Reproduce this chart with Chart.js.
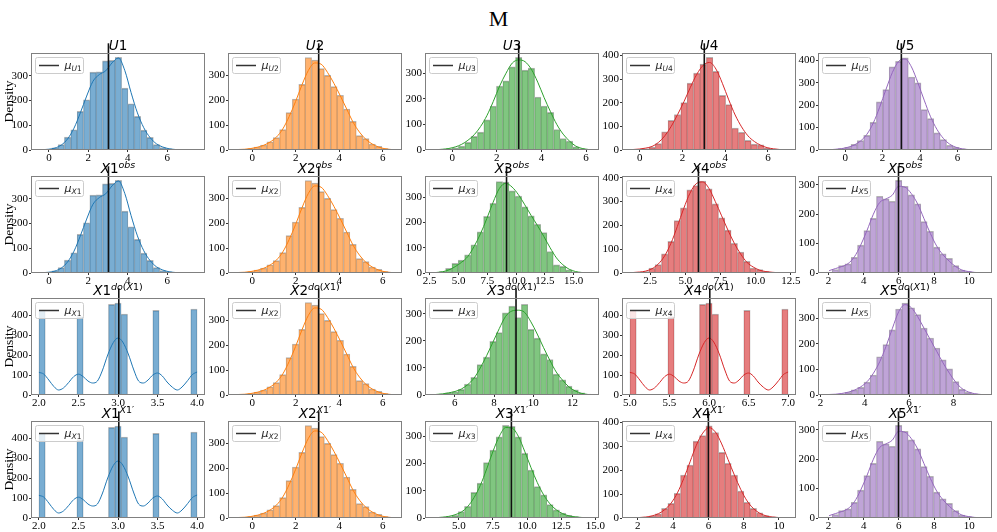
<!DOCTYPE html>
<html>
<head>
<meta charset="utf-8">
<script src="https://cdn.jsdelivr.net/npm/chart.js@4.4.0/dist/chart.umd.min.js"></script>
<style>
  body { margin: 0; background: #fff; width: 997px; height: 532px; position: relative; overflow: hidden; }
  #title { position: absolute; left: 0; width: 997px; top: 8px; text-align: center;
           font: 22px 'Liberation Serif', serif; line-height: 22px; color: #000; }
  canvas { position: absolute; }
</style>
</head>
<body>
<div id="title">M</div>
<script>
// ---- data (25 bins per panel, row by row) ----
const panelTitles = [
  'U1', 'U2', 'U3', 'U4', 'U5',
  'X1^obs', 'X2^obs', 'X3^obs', 'X4^obs', 'X5^obs',
  'X1^do(X1)', 'X2^do(X1)', 'X3^do(X1)', 'X4^do(X1)', 'X5^do(X1)',
  'X1^X1′', 'X2^X1′', 'X3^X1′', 'X4^X1′', 'X5^X1′',
];
const meanLabels = [
  'U1', 'U2', 'U3', 'U4', 'U5',
  'X1', 'X2', 'X3', 'X4', 'X5',
  'X1', 'X2', 'X3', 'X4', 'X5',
  'X1', 'X2', 'X3', 'X4', 'X5',
];
const means = [
  3.02, 3.05, 2.98, 3.02, 3.0,
  3.02, 3.05, 9.17, 5.93, 5.98,
  3.01, 3.05, 9.12, 6.01, 5.98,
  3.01, 3.05, 8.85, 6.0, 5.98,
];

// histogram counts
const countsU1 = [2, 4, 9, 22, 52, 82, 156, 203, 315, 316, 360, 362, 374, 250, 187, 136, 80, 51, 22, 10, 5, 3, 1, 1, 1];
const countsU2 = [2, 3, 6, 12, 20, 33, 50, 82, 150, 205, 264, 372, 362, 327, 300, 255, 220, 165, 115, 58, 46, 24, 15, 6, 3];
const countsU3 = [2, 3, 5, 8, 15, 30, 53, 70, 118, 172, 250, 270, 325, 362, 312, 320, 207, 172, 147, 80, 45, 35, 12, 5, 2];
const countsU4 = [2, 3, 5, 12, 27, 77, 125, 150, 200, 283, 325, 363, 392, 332, 231, 192, 93, 75, 41, 25, 22, 8, 4, 2, 1];
const countsU5 = [1, 3, 6, 12, 25, 42, 65, 123, 214, 269, 370, 395, 410, 325, 299, 180, 140, 76, 46, 21, 12, 5, 3, 1, 1];
const countsX3obs = [2, 6, 18, 38, 51, 72, 112, 163, 224, 276, 362, 360, 325, 305, 262, 226, 193, 160, 85, 32, 26, 13, 4, 2, 1];
const countsX4obs = [2, 3, 6, 21, 35, 80, 133, 220, 273, 349, 367, 386, 353, 290, 232, 180, 125, 88, 49, 21, 14, 6, 3, 1, 1];
const countsX5obs = [3, 12, 25, 31, 53, 95, 144, 186, 261, 252, 244, 315, 295, 266, 235, 175, 142, 88, 65, 50, 25, 10, 5, 2, 1];
const countsDisc = [425, 0, 0, 0, 0, 0, 392, 0, 0, 0, 0, 453, 460, 405, 0, 0, 0, 0, 423, 0, 0, 0, 0, 0, 430];
const countsX3do = [2, 4, 8, 12, 21, 40, 65, 112, 140, 198, 230, 303, 328, 286, 335, 242, 210, 152, 131, 77, 56, 33, 19, 8, 3];
const countsX5do = [1, 3, 5, 10, 20, 30, 50, 78, 149, 196, 254, 335, 358, 340, 313, 261, 222, 183, 137, 102, 52, 22, 10, 5, 2];
const countsX3cf = [1, 3, 5, 10, 24, 43, 94, 128, 203, 249, 298, 340, 336, 298, 237, 176, 115, 85, 49, 30, 18, 10, 5, 2, 1];
const countsX4cf = [1, 2, 4, 8, 17, 40, 61, 103, 180, 222, 322, 345, 386, 358, 275, 229, 180, 113, 66, 40, 22, 10, 5, 2, 1];

// kde curve heights at the bin centres
const kdeU1 = [1, 3, 8, 20, 45, 88, 150, 218, 278, 305, 320, 352, 372, 322, 232, 150, 90, 50, 25, 12, 5, 2, 1, 0.5, 0.3];
const kdeU2 = [2, 3, 6, 11, 19, 32, 52, 85, 135, 195, 262, 320, 350, 345, 312, 268, 218, 165, 112, 72, 43, 24, 12, 5, 2];
const kdeU3 = [1, 3, 6, 12, 22, 38, 60, 92, 135, 190, 250, 300, 340, 352, 345, 315, 265, 205, 150, 100, 62, 35, 15, 6, 2];
const kdeU4 = [2, 4, 8, 15, 32, 60, 100, 150, 205, 265, 320, 358, 370, 342, 282, 212, 148, 98, 60, 36, 20, 10, 5, 2, 1];
const kdeU5 = [1, 3, 6, 12, 22, 40, 70, 120, 190, 270, 345, 395, 405, 370, 300, 222, 148, 92, 52, 26, 12, 5, 2, 1, 0.5];
const kdeX3obs = [2, 5, 12, 25, 42, 65, 105, 155, 215, 280, 335, 355, 340, 310, 270, 228, 188, 145, 100, 60, 33, 15, 6, 2, 1];
const kdeX4obs = [2, 4, 8, 18, 38, 72, 125, 195, 270, 335, 375, 382, 355, 300, 240, 180, 125, 80, 45, 25, 12, 6, 3, 1, 0.5];
const kdeX5obs = [8, 15, 22, 32, 55, 95, 145, 200, 240, 252, 265, 295, 292, 270, 235, 185, 135, 92, 62, 40, 22, 10, 5, 2, 1];
const kdeX3do = [2, 4, 8, 13, 22, 38, 62, 100, 145, 195, 245, 290, 310, 313, 305, 270, 225, 175, 128, 85, 55, 30, 15, 6, 2];
const kdeX5do = [2, 3, 6, 11, 19, 32, 52, 85, 130, 190, 260, 325, 352, 340, 305, 260, 215, 170, 125, 85, 50, 25, 12, 5, 2];
const kdeX3cf = [1, 3, 6, 12, 22, 42, 75, 120, 180, 245, 300, 332, 330, 300, 245, 185, 130, 85, 52, 30, 16, 8, 4, 2, 1];
const kdeX4cf = [1, 2, 4, 9, 18, 35, 62, 105, 165, 235, 305, 355, 378, 360, 310, 245, 180, 120, 72, 40, 20, 9, 4, 2, 1];

// kde of the five-valued (intervened) variables
const kdeDiscX1 = [2.0, 2.06, 2.125, 2.19, 2.25, 2.31, 2.375, 2.44, 2.5, 2.56, 2.62, 2.68, 2.74, 2.8, 2.87, 2.94, 3.0,
                   3.06, 3.13, 3.2, 3.26, 3.32, 3.38, 3.44, 3.5, 3.56, 3.62, 3.69, 3.75, 3.81, 3.88, 3.94, 4.0];
const kdeDiscX4 = [5.0, 5.06, 5.125, 5.19, 5.25, 5.31, 5.375, 5.44, 5.5, 5.56, 5.62, 5.68, 5.74, 5.8, 5.87, 5.94, 6.0,
                   6.06, 6.13, 6.2, 6.26, 6.32, 6.38, 6.44, 6.5, 6.56, 6.62, 6.69, 6.75, 6.81, 6.88, 6.94, 7.0];
const kdeDiscY = [113, 105, 75, 42, 25, 35, 62, 92, 104, 92, 70, 60, 70, 120, 200, 262, 285,
                  265, 205, 125, 70, 60, 75, 100, 110, 95, 65, 38, 25, 40, 72, 102, 115];

const binStart = [
  -0.5, -0.8, -0.86, -0.47, -1.05,
  -0.5, -0.8, 2.78, 1.06, 1.85,
  2.0, -0.8, 4.88, 5.0, 2.25,
  2.0, -0.8, 3.1, 1.55, 1.85,
];
const binWidth = [
  0.322, 0.2935, 0.2845, 0.299, 0.34,
  0.322, 0.2935, 0.55, 0.4494, 0.36,
  0.08, 0.2935, 0.3225, 0.08, 0.2855,
  0.08, 0.2935, 0.4636, 0.359, 0.36,
];
const xLimits = [
  [-0.91, 7.92], [-1.12, 6.88], [-1.22, 6.58], [-0.83, 7.31], [-1.45, 7.84],
  [-0.91, 7.92], [-1.12, 6.88], [2.09, 17.2], [0.5, 12.86], [1.4, 11.3],
  [1.9, 4.1], [-1.12, 6.88], [4.48, 13.35], [4.9, 7.1], [1.89, 9.74],
  [1.9, 4.1], [-1.12, 6.88], [2.52, 15.27], [1.1, 10.97], [1.4, 11.3],
];
const yMax = [
  392, 390, 379, 410, 432,
  392, 390, 384, 407, 330,
  485, 390, 358, 485, 378,
  485, 390, 356, 406, 330,
];

// tick labels
const xt0246 = ['0', '2', '4', '6'];
const xtX3obs = ['2.5', '5.0', '7.5', '10.0', '12.5', '15.0'];
const xtX4obs = ['2.5', '5.0', '7.5', '10.0', '12.5'];
const xt2to10 = ['2', '4', '6', '8', '10'];
const xtDisc1 = ['2.0', '2.5', '3.0', '3.5', '4.0'];
const xtX3do = ['6', '8', '10', '12'];
const xtDisc4 = ['5.0', '5.5', '6.0', '6.5', '7.0'];
const xtX5do = ['2', '4', '6', '8'];
const xtX3cf = ['5.0', '7.5', '10.0', '12.5', '15.0'];
const yt300 = ['0', '100', '200', '300'];
const yt400 = ['0', '100', '200', '300', '400'];

const panelCounts = [
  countsU1, countsU2, countsU3, countsU4, countsU5,
  countsU1, countsU2, countsX3obs, countsX4obs, countsX5obs,
  countsDisc, countsU2, countsX3do, countsDisc, countsX5do,
  countsDisc, countsU2, countsX3cf, countsX4cf, countsX5obs,
];
const panelKde = [
  kdeU1, kdeU2, kdeU3, kdeU4, kdeU5,
  kdeU1, kdeU2, kdeX3obs, kdeX4obs, kdeX5obs,
  kdeDiscY, kdeU2, kdeX3do, kdeDiscY, kdeX5do,
  kdeDiscY, kdeU2, kdeX3cf, kdeX4cf, kdeX5obs,
];
const panelKdeX = {10: kdeDiscX1, 13: kdeDiscX4, 15: kdeDiscX1};
const panelXTicks = [
  xt0246, xt0246, xt0246, xt0246, xt0246,
  xt0246, xt0246, xtX3obs, xtX4obs, xt2to10,
  xtDisc1, xt0246, xtX3do, xtDisc4, xtX5do,
  xtDisc1, xt0246, xtX3cf, xt2to10, xt2to10,
];
const panelYTicks = [
  yt300, yt300, yt300, yt400, yt400,
  yt300, yt300, yt300, yt400, yt300,
  yt400, yt300, yt300, yt400, yt300,
  yt400, yt300, yt300, yt400, yt300,
];

// ---- layout & style ----
const colRgb = ['31,119,180', '255,127,14', '44,160,44', '214,39,40', '148,103,189'];
const plotLeft = [31, 228, 425, 622, 818];
const plotTop = [53, 176, 298, 421];
const plotW = 174, plotH = 97;
const padL = 30, padT = 25, padR = 6, padB = 18;
const tickFont = { family: "'Liberation Serif', serif", size: 11 };

function mathRuns(str, size, sSize, sDy) {
  const [base, script] = str.split('^');
  const runs = [];
  for (const ch of base) runs.push({ ch, size, dy: 0 });
  if (script) for (const ch of script) runs.push({ ch, size: sSize, dy: sDy });
  return runs;
}

function drawRuns(ctx, runs, x, y, center, color) {
  const fontOf = (r) => `${/[A-Za-zμ]/.test(r.ch) ? 'italic ' : ''}${r.size}px 'DejaVu Sans'`;
  let total = 0;
  runs.forEach((r) => { ctx.font = fontOf(r); r.w = ctx.measureText(r.ch).width; total += r.w; });
  let cx = center ? x - total / 2 : x;
  ctx.textAlign = 'left';
  ctx.textBaseline = 'alphabetic';
  ctx.fillStyle = color || '#000';
  runs.forEach((r) => { ctx.font = fontOf(r); ctx.fillText(r.ch, cx, y + r.dy); cx += r.w; });
}

// frame, mean line, legend, title and y label
const decorPlugin = {
  id: 'decor',
  afterDatasetsDraw(chart) {
    const { ctx, chartArea: a, scales: { x } } = chart;
    const p = chart.options.plugins.decor;
    const h = a.bottom - a.top;
    ctx.save();

    const mx = x.getPixelForValue(p.mean);
    ctx.strokeStyle = '#111';
    ctx.lineWidth = 1.6;
    ctx.beginPath();
    ctx.moveTo(mx, a.bottom);
    ctx.lineTo(mx, a.top - 0.1 * h);
    ctx.stroke();

    ctx.strokeStyle = '#808080';
    ctx.lineWidth = 1;
    ctx.strokeRect(a.left + 0.5, a.top + 0.5, a.right - a.left - 1, a.bottom - a.top - 1);

    // legend box
    const bx = a.left + 4.5, by = a.top + 4.5, bw = 48, bh = 16;
    ctx.beginPath();
    ctx.roundRect(bx, by, bw, bh, 2);
    ctx.fillStyle = 'rgba(255,255,255,0.8)';
    ctx.fill();
    ctx.strokeStyle = '#cccccc';
    ctx.stroke();
    ctx.strokeStyle = '#333';
    ctx.lineWidth = 1.5;
    ctx.beginPath();
    ctx.moveTo(a.left + 8, by + bh / 2);
    ctx.lineTo(a.left + 28, by + bh / 2);
    ctx.stroke();
    drawRuns(ctx, mathRuns('μ^' + p.meanLabel, 11, 7.5, 2.5), a.left + 33.5, by + bh / 2 + 3, false, '#222');

    drawRuns(ctx, mathRuns(p.title, 13.5, 9.5, -5.5), (a.left + a.right) / 2, a.top - 2.7, true);

    if (p.density) {
      ctx.translate(8, (a.top + a.bottom) / 2);
      ctx.rotate(-Math.PI / 2);
      ctx.font = "13.5px 'Liberation Serif', serif";
      ctx.textAlign = 'center';
      ctx.textBaseline = 'middle';
      ctx.fillStyle = '#000';
      ctx.fillText('Density', 0, 0);
    }
    ctx.restore();
  },
};

function makePanel(idx) {
  const row = Math.floor(idx / 5), col = idx % 5;
  const canvas = document.createElement('canvas');
  canvas.width = padL + plotW + padR;
  canvas.height = padT + plotH + padB;
  canvas.style.left = (plotLeft[col] - padL) + 'px';
  canvas.style.top = (plotTop[row] - padT) + 'px';
  document.body.appendChild(canvas);

  const lo = binStart[idx], w = binWidth[idx];
  const bars = panelCounts[idx]
    .map((c, i) => (c ? { x: lo + (i + 0.5) * w, y: c } : null))
    .filter(Boolean);
  const kdeX = panelKdeX[idx];
  const kde = panelKde[idx].map((v, i) => ({ x: kdeX ? kdeX[i] : lo + (i + 0.5) * w, y: v }));
  const xt = panelXTicks[idx], yt = panelYTicks[idx];
  const rgb = colRgb[col];

  return new Chart(canvas, {
    type: 'bar',
    data: {
      datasets: [
        {
          type: 'bar',
          data: bars,
          backgroundColor: `rgba(${rgb},0.6)`,
          borderColor: '#b4b4b4',
          borderWidth: { top: 1, left: 0.5, right: 0.5, bottom: 0 },
          borderSkipped: 'start',
          barPercentage: 1,
          categoryPercentage: 1,
          order: 2,
        },
        {
          type: 'line',
          data: kde,
          borderColor: `rgb(${rgb})`,
          borderWidth: 1,
          pointRadius: 0,
          cubicInterpolationMode: 'monotone',
          fill: false,
          order: 1,
        },
      ],
    },
    options: {
      responsive: false,
      animation: false,
      layout: { padding: { left: 0, top: padT, right: padR, bottom: 0 } },
      plugins: {
        legend: { display: false },
        tooltip: { enabled: false },
        decor: {
          mean: means[idx],
          meanLabel: meanLabels[idx],
          title: panelTitles[idx],
          density: col === 0,
        },
      },
      scales: {
        x: {
          type: 'linear',
          offset: false,
          min: xLimits[idx][0],
          max: xLimits[idx][1],
          afterBuildTicks: (s) => { s.ticks = xt.map((t) => ({ value: parseFloat(t) })); },
          afterFit: (s) => { s.height = padB; s.paddingLeft = 0; s.paddingRight = 0; },
          ticks: {
            callback: (v, i) => xt[i],
            autoSkip: false,
            maxRotation: 0,
            padding: 0,
            color: '#000',
            font: tickFont,
          },
          grid: { offset: false, drawOnChartArea: false, tickLength: 2, color: '#333' },
          border: { display: false },
        },
        y: {
          min: 0,
          max: yMax[idx],
          afterBuildTicks: (s) => { s.ticks = yt.map((t) => ({ value: parseFloat(t) })); },
          afterFit: (s) => { s.width = padL; s.paddingTop = 0; s.paddingBottom = 0; },
          ticks: {
            callback: (v, i) => yt[i],
            padding: 1,
            color: '#000',
            font: tickFont,
          },
          grid: { drawOnChartArea: false, tickLength: 2, color: '#333' },
          border: { display: false },
        },
      },
    },
    plugins: [decorPlugin],
  });
}

for (let i = 0; i < 20; i++) makePanel(i);
</script>
</body>
</html>
